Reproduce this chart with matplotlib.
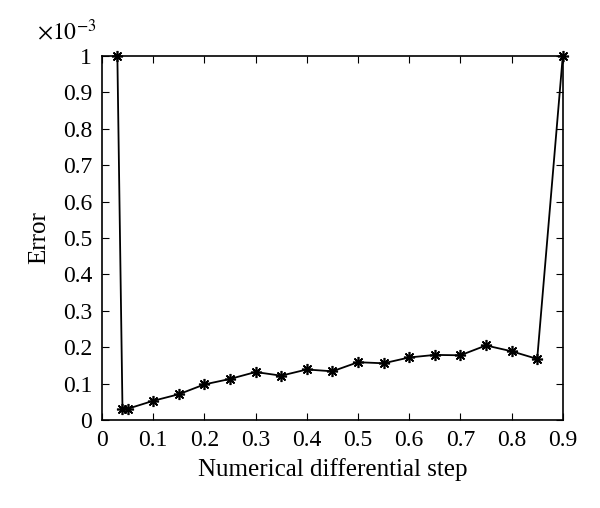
import matplotlib
matplotlib.use("Agg")
import matplotlib.pyplot as plt

# data
step = [0.03, 0.04, 0.05, 0.10, 0.15, 0.20, 0.25, 0.30, 0.35, 0.40, 0.45,
        0.50, 0.55, 0.60, 0.65, 0.70, 0.75, 0.80, 0.85, 0.90]
error = [1.0, 0.031, 0.031, 0.053, 0.071, 0.098, 0.113, 0.132, 0.122, 0.139, 0.134,
         0.159, 0.156, 0.172, 0.179, 0.178, 0.205, 0.189, 0.168, 1.0]
error = [e * 1e-3 for e in error]

plt.rcParams['font.family'] = ['Liberation Serif', 'DejaVu Serif']
plt.rcParams['mathtext.fontset'] = 'stix'

fig = plt.figure(figsize=(6, 5.08), dpi=100)
ax = fig.add_axes([0.17, 0.173, 0.768, 0.717])

ax.plot(step, error, color='black', lw=1.3, marker=(8, 2, 0), markersize=8,
        markeredgewidth=1.2, clip_on=False, zorder=5)

ax.set_xlim(0, 0.9)
ax.set_ylim(0, 1e-3)
ax.set_xticks([i / 10 for i in range(10)])
ax.set_yticks([i * 1e-4 for i in range(11)])

ax.yaxis.set_major_formatter(plt.FuncFormatter(lambda v, p: f'{round(v * 1e3, 3):g}'))
ax.xaxis.set_major_formatter(plt.FuncFormatter(lambda v, p: f'{round(v, 3):g}'))

ax.tick_params(direction='in', length=5, labelsize=17, top=True, right=True, pad=7)
for s in ax.spines.values():
    s.set_linewidth(1.2)

ax.text(-0.14, 1.03, r'$\times 10^{-3}$', transform=ax.transAxes, fontsize=17,
        ha='left', va='bottom')

ax.set_xlabel("Numerical differential step", fontsize=18, labelpad=5)
ax.set_ylabel("Error", fontsize=18, labelpad=9)

fig.savefig("out.png", dpi=100)
